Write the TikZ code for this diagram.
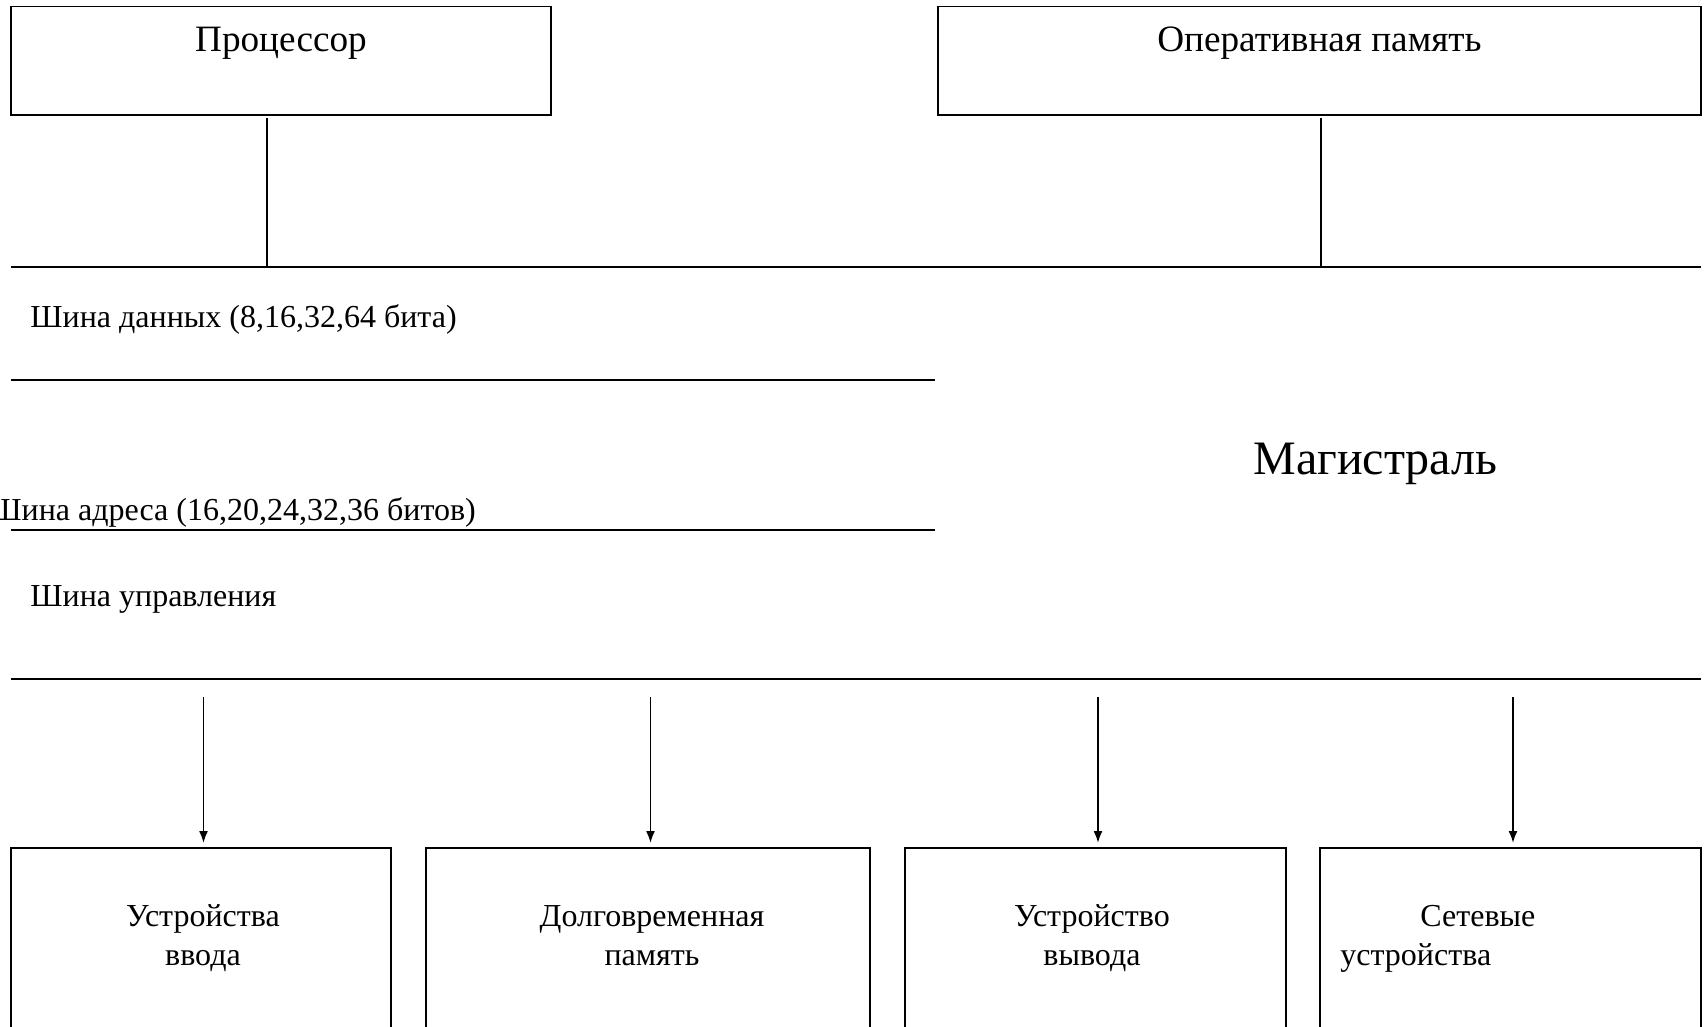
\documentclass[tikz,border=0pt]{standalone}
\usepackage{fontspec}
\setmainfont{Liberation Serif}
\usetikzlibrary{arrows.meta}

\begin{document}
\begin{tikzpicture}[x=0.5pt,y=0.5pt,yscale=-1,
    unit/.style={draw, line width=0.9pt, inner sep=0pt, outer sep=0pt, minimum height=54.25pt},
    slot/.style={draw, line width=0.9pt, inner sep=0pt, outer sep=0pt, minimum height=110pt},
    bus/.style={line width=0.9pt},
    feed/.style={line width=0.9pt, -{Latex[length=6pt,width=4.5pt]}, shorten >=2.5pt},
    big/.style={font=\fontsize{18.6}{21}\selectfont, inner sep=0pt},
    small/.style={font=\fontsize{16}{19.5}\selectfont, inner sep=0pt, align=center}]
  \clip (0,0) rectangle (1704,1027);
  % processor and main memory
  \node[unit, minimum width=270pt] (cpu) at (281,60.75) {};
  \node[unit, minimum width=381.5pt] (ram) at (1319.5,60.75) {};
  \node[big, anchor=base] (cpuText) at (281,52) {Процессор};
  \node[big, anchor=base] (ramText) at (1319.5,52) {Оперативная память};
  % bus lines
  \coordinate (topL) at (11,267);
  \coordinate (topR) at (1701,267);
  \coordinate (dataL) at (11,380);
  \coordinate (dataR) at (935,380);
  \coordinate (addrL) at (11,530);
  \coordinate (addrR) at (935,530);
  \coordinate (ctrlL) at (11,679);
  \coordinate (ctrlR) at (1701,679);
  \draw[bus] (topL) -- (topR);
  \draw[bus] (dataL) -- (dataR);
  \draw[bus] (addrL) -- (addrR);
  \draw[bus] (ctrlL) -- (ctrlR);
  \coordinate (cpuTap) at (267,118);
  \coordinate (ramTap) at (1321,118);
  \draw[bus] (cpuTap) -- (cpuTap |- topL);
  \draw[bus] (ramTap) -- (ramTap |- topL);
  \node[small, anchor=base west] (dataText) at (30,328) {Шина данных (8,16,32,64 бита)};
  \node[small, anchor=base west] (addrText) at (-11,520) {Шина адреса (16,20,24,32,36 битов)};
  \node[small, anchor=base west] (ctrlText) at (30,606) {Шина управления};
  \node[font=\fontsize{24}{28}\selectfont, inner sep=0pt, anchor=base west] (trunk) at (1253,474) {Магистраль};
  % peripheral devices
  \node[slot, minimum width=190pt] (inDev) at (201,958) {};
  \node[slot, minimum width=222pt] (storage) at (648,958) {};
  \node[slot, minimum width=190.5pt] (outDev) at (1095.5,958) {};
  \node[slot, minimum width=190.5pt] (netDev) at (1510.5,958) {};
  \node[small, anchor=base] (inText) at (203,965) {Устройства\\ввода};
  \node[small, anchor=base] (storageText) at (652,965) {Долговременная\\память};
  \node[small, anchor=base] (outText) at (1092,965) {Устройство\\вывода};
  \node[small, align=left, anchor=base west] (netText) at (1340,965) {\hspace*{40pt}Сетевые\\устройства};
  \coordinate (feedTop) at (0,697);
  \foreach \dev in {inDev,storage,outDev,netDev}
    \draw[feed] ([xshift=1.25pt]\dev.north |- feedTop) -- ([xshift=1.25pt]\dev.north);
\end{tikzpicture}
\end{document}
